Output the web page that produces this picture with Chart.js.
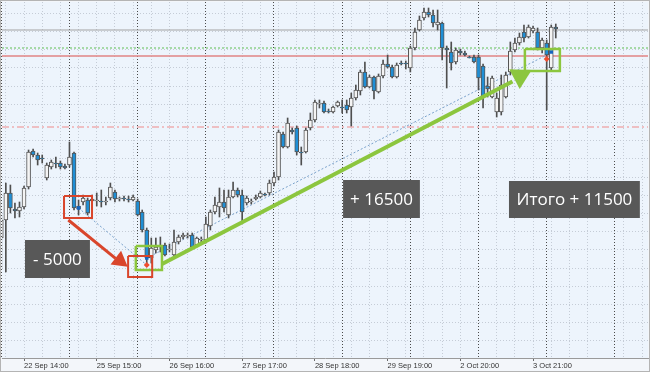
<!DOCTYPE html>
<html>
<head>
<meta charset="utf-8">
<script src="https://cdn.jsdelivr.net/npm/chart.js@4.4.0/dist/chart.umd.min.js"></script>
<style>
  html, body { margin: 0; padding: 0; background: #f3f6fa; }
  #wrap { width: 650px; height: 372px; }
</style>
</head>
<body>
<div id="wrap"><canvas id="chart" width="650" height="372"></canvas></div>
<script>
/* ═══════════════════════════════════════════════════════════
   H1 candles, 22 Sep – 4 Oct, with trade annotations
   ═══════════════════════════════════════════════════════════ */

// OHLC per hourly bar (15 bars per trading day, bar 0 = 22 Sep 09:00)
const opens = [
  100960,102400,104560,103280,103120,103440,105040,107920,107600,107360,105760,106640,106960,106960,106720,
  106800,107760,103520,103840,104000,103920,103920,103920,103840,104160,104640,104080,104160,104080,104000,
  103920,103040,101600,99360,100000,100240,100400,100000,99600,100640,101040,101120,101200,100400,100800,
  100800,101920,103040,103440,103840,102800,104240,104800,104400,103760,103840,104080,104240,104480,104560,
  105360,105840,109280,108240,109600,109760,107840,107840,109760,110400,111680,111760,111120,111040,111520,
  111440,111600,111440,112160,112720,114240,113040,113840,112640,113920,114880,114640,113840,114960,114960,
  114560,116160,117600,118560,119040,118800,118000,118160,116160,115840,115040,115920,115760,115440,115440,
  115440,114720,113120,112240,111040,111040,112240,114240,116000,116560,117440,117040,117520,117440,116160,
  116560,114560,117840
];
const highs = [
  102800,105360,105200,103760,103840,105120,108000,108080,107760,107600,106960,107200,107440,107120,106880,
  108640,107840,104000,104400,104160,104400,104560,104800,104240,105360,104800,104240,104320,104320,104400,
  104080,103200,101760,100960,100960,101040,100560,100480,101600,101200,101360,101360,101360,101040,101040,
  102640,103200,104240,104960,104800,104800,105440,104960,104800,104320,104080,104400,104720,104560,105600,
  106240,109600,109440,110560,109760,109920,108240,109760,110960,112000,112000,111920,111280,111520,111920,
  112000,112000,112560,113200,114400,115040,114000,113920,114080,115200,115600,114800,114960,115120,115120,
  116320,117760,118720,119360,119360,119200,119200,118240,116320,116640,116160,116080,115920,115520,115600,
  115600,114880,113840,113920,112560,114000,114240,116640,116960,117360,118000,118000,117920,117760,116960,
  116800,118000,118080
];
const lows = [
  98560,98240,102960,102560,102640,103280,104880,107440,106800,106960,105600,106480,106560,106480,106480,
  106640,103200,102800,103600,102800,103200,103520,103440,103600,104000,103840,103920,103920,103840,103920,
  102720,101440,98960,98960,99760,99840,99520,99840,99440,100480,100880,100960,100160,100240,100640,
  100560,101600,102880,102640,103040,102560,104160,104240,102240,103600,103680,104000,104160,104320,104400,
  105120,105600,108160,108160,109280,107600,106800,107760,109600,110240,111360,110960,110960,110960,111440,
  110960,110960,109920,112000,112400,112960,112960,112080,112560,113760,114560,113760,113760,114800,114480,
  114240,116000,117520,118400,118640,117840,117600,115200,112960,114400,114880,115600,115520,115360,114960,
  112800,111360,112240,112160,110640,110800,112160,114000,115840,116400,116640,116960,117360,116000,115760,
  111200,114400,116960
];
const closes = [
  102400,104560,103360,103120,103440,104960,107840,107600,107200,107280,106800,107040,106880,106640,106560,
  107440,103360,103280,104160,102960,104080,104000,103840,103920,105040,104080,104160,104080,104000,104240,
  102800,101600,99360,100160,100240,100320,99600,100080,100640,101040,101200,101200,100240,100960,100880,
  102080,103040,103600,103840,103360,104240,104800,104400,103040,104160,103920,104240,104560,104400,105360,
  105840,109440,108240,110160,109440,107840,107760,109600,110400,111840,111760,111040,111040,111440,111840,
  111360,111200,112160,112800,114240,113040,113840,112720,113920,114880,114640,113840,114800,114880,114880,
  116160,117440,118400,119040,118800,118160,118240,116160,116000,114960,116000,115760,115600,115360,115040,
  113760,112320,112880,113760,112160,113200,114000,115920,116560,117040,116960,117840,117760,116160,116800,
  115600,117840,117680
];

// time axis
const barsPerDay = 15;
const firstLabelBar = 5;
const labelEvery = 16;
const tickLabels = ['22 Sep 14:00', '25 Sep 15:00', '26 Sep 16:00', '27 Sep 17:00',
                    '28 Sep 18:00', '29 Sep 19:00', '2 Oct 20:00', '3 Oct 21:00'];
const xMin = 0.154, xMax = 142.29;

// price window and grid
const yMin = 91360, yMax = 119840;
const gridTop = 118936, gridStep = 1456;

// horizontal levels
const askLevel = 117600;
const takeLevel = 116160;
const stopLevel = 115520;
const alertLevel = 109840;

// trades: [bar, price] entry -> exit
const trade1 = [[17, 103360], [32, 98800]];
const trade2 = [[32, 99360], [120, 115600]];
const entryMarks = [[17, 103360], [32, 99360], [121, 115840]];
const exitMarks = [[32, 98800], [120, 115280]];

// annotation frames: [x0, x1, yTop, yBottom]
const redFrames = [[13.8, 19.96, 104320, 102560], [27.9, 33.2, 99520, 97840]];
const greenFrames = [[29.6, 35.35, 100320, 98400], [115.2, 122.9, 116080, 114320]];

// arrows: shaft points + head centre
const redShaft = [[14.74, 102400], [25.13, 99336]];
const redHead = [26.07, 99152];
const greenShaft = [[35.36, 98880], [112.47, 113488]];
const greenHead = [114.17, 113912];

// result labels
const noteTexts = ['- 5000', '+ 16500', 'Итого + 11500'];
const noteX = [[5.21, 19.5], [75.2, 92.1], [111.7, 140.5]];
const noteY = [[100800, 97760], [105600, 102560], [105520, 102560]];

const bars = opens.map((_, i) => i);
const pts = arr => arr.map(p => ({ x: p[0], y: p[1] }));
const frame = f => [{x: f[0], y: f[2]}, {x: f[1], y: f[2]}, {x: f[1], y: f[3]}, {x: f[0], y: f[3]}, {x: f[0], y: f[2]}];
const level = v => [{x: xMin, y: v}, {x: xMax, y: v}];

function isLabelBar(v) {
  return v >= firstLabelBar && (v - firstLabelBar) % labelEvery === 0;
}

const lineDs = (data, color, width, dash, order) => ({
  type: 'line', data, borderColor: color, borderWidth: width, borderDash: dash || [],
  pointRadius: 0, fill: false, tension: 0, order
});

const datasets = [
  lineDs(level(askLevel), '#a3a3a3', 1, null, 20),
  lineDs(level(takeLevel), '#8fd18a', 1.5, [2, 2], 20),
  lineDs(level(stopLevel), '#e08585', 1.5, null, 20),
  lineDs(level(alertLevel), '#f08a8a', 1.2, [7, 3, 2, 3], 20),
  lineDs(pts(trade1), '#7aa2cc', 1, [2, 2], 12),
  lineDs(pts(trade2), '#7aa2cc', 1, [2, 2], 12),
  // wicks
  {
    type: 'bar', data: bars.map(i => ({ x: i, y: [lows[i], highs[i]] })),
    backgroundColor: '#4f4f4f', barThickness: 1, grouped: false, order: 10
  },
  // bodies
  {
    type: 'bar', data: bars.map(i => ({ x: i, y: [opens[i], closes[i]] })),
    backgroundColor: ctx => (closes[ctx.dataIndex] >= opens[ctx.dataIndex] ? '#f4f4f4' : '#1f8fd6'),
    borderColor: '#555555', borderWidth: 1, borderSkipped: false,
    barThickness: 4, grouped: false, order: 9
  },
  {
    type: 'line', data: pts(entryMarks), showLine: false, pointStyle: 'rect', pointRadius: 2.5,
    pointBackgroundColor: '#1565c0', pointBorderWidth: 0, order: 5
  },
  {
    type: 'line', data: pts(exitMarks), showLine: false, pointStyle: 'rectRot', pointRadius: 3,
    pointBackgroundColor: '#ef4d2e', pointBorderWidth: 0, order: 5
  },
  ...redFrames.map(f => lineDs(frame(f), '#d9452b', 2, null, 2)),
  ...greenFrames.map(f => lineDs(frame(f), '#8cc63e', 2.5, null, 2)),
  lineDs(pts(redShaft), '#d9452b', 3, null, 1),
  lineDs(pts(greenShaft), '#8cc63e', 4, null, 1),
  {
    type: 'line', data: [{ x: redHead[0], y: redHead[1] }], showLine: false, pointStyle: 'triangle',
    pointRadius: 10, rotation: 127.4, pointBackgroundColor: '#d9452b', pointBorderWidth: 0, order: 1
  },
  {
    type: 'line', data: [{ x: greenHead[0], y: greenHead[1] }], showLine: false, pointStyle: 'triangle',
    pointRadius: 13, rotation: 62.2, pointBackgroundColor: '#8cc63e', pointBorderWidth: 0, order: 1
  }
];

// plot background, note boxes, outer frame
const decor = {
  id: 'decor',
  beforeDraw(chart) {
    const { ctx, chartArea: a } = chart;
    ctx.save();
    ctx.fillStyle = '#f3f6fa';
    ctx.fillRect(0, 0, chart.width, chart.height);
    ctx.fillStyle = '#edf4fc';
    ctx.fillRect(a.left, a.top, a.right - a.left, a.bottom - a.top);
    ctx.restore();
  },
  afterDatasetsDraw(chart) {
    const { ctx, scales: { x, y } } = chart;
    ctx.save();
    ctx.font = '17px "Open Sans", sans-serif';
    ctx.textAlign = 'center';
    ctx.textBaseline = 'middle';
    noteTexts.forEach((t, k) => {
      const x0 = x.getPixelForValue(noteX[k][0]), x1 = x.getPixelForValue(noteX[k][1]);
      const y0 = y.getPixelForValue(noteY[k][0]), y1 = y.getPixelForValue(noteY[k][1]);
      ctx.fillStyle = '#585858';
      ctx.fillRect(x0, y0, x1 - x0, y1 - y0);
      ctx.fillStyle = '#ffffff';
      ctx.fillText(t, (x0 + x1) / 2, (y0 + y1) / 2 + 1);
    });
    ctx.restore();
  },
  afterDraw(chart) {
    const ctx = chart.ctx;
    ctx.save();
    ctx.strokeStyle = '#b4b4b4';
    ctx.lineWidth = 1;
    ctx.strokeRect(0.5, 0.5, chart.width - 1, chart.height - 1);
    ctx.restore();
  }
};

new Chart(document.getElementById('chart'), {
  type: 'bar',
  data: { datasets },
  options: {
    responsive: false,
    animation: false,
    devicePixelRatio: 1,
    events: [],
    layout: { autoPadding: false, padding: { left: 2, right: 2, top: 2, bottom: 0 } },
    plugins: { legend: { display: false }, tooltip: { enabled: false } },
    scales: {
      x: {
        type: 'linear', min: xMin, max: xMax, position: 'bottom', offset: false,
        afterBuildTicks: s => {
          const t = [];
          for (let v = 1; v <= xMax; v += 4) t.push({ value: v });
          s.ticks = t;
        },
        afterFit: s => { s.height = 14; },
        grid: {
          offset: false, color: '#c5ccd6', lineWidth: 1, tickLength: 3,
          tickColor: c => (c.tick && isLabelBar(c.tick.value) ? '#6a6a6a' : 'rgba(0,0,0,0)')
        },
        border: { display: true, color: '#9a9a9a', dash: [1, 2] },
        ticks: {
          align: 'start', padding: 0, maxRotation: 0, autoSkip: false, color: '#333333',
          font: { family: 'Liberation Sans', size: 7.5 },
          callback: v => (isLabelBar(v) ? tickLabels[(v - firstLabelBar) / labelEvery] : '')
        }
      },
      xSep: {
        type: 'linear', min: xMin, max: xMax, position: 'bottom', offset: false,
        afterBuildTicks: s => {
          const t = [];
          for (let v = 0; v <= xMax; v += barsPerDay) t.push({ value: v });
          s.ticks = t;
        },
        afterFit: s => { s.height = 0; },
        ticks: { display: false },
        grid: { offset: false, color: '#4a4a4a', lineWidth: 1, drawTicks: false },
        border: { display: false, dash: [1, 2] }
      },
      y: {
        type: 'linear', min: yMin, max: yMax,
        afterBuildTicks: s => {
          const t = [];
          for (let v = gridTop; v >= yMin; v -= gridStep) t.push({ value: v });
          s.ticks = t;
        },
        afterFit: s => { s.width = 0; },
        ticks: { display: false },
        grid: { color: '#c5ccd6', lineWidth: 1, drawTicks: false },
        border: { display: false, dash: [1, 2] }
      }
    }
  },
  plugins: [decor]
});
</script>
</body>
</html>
